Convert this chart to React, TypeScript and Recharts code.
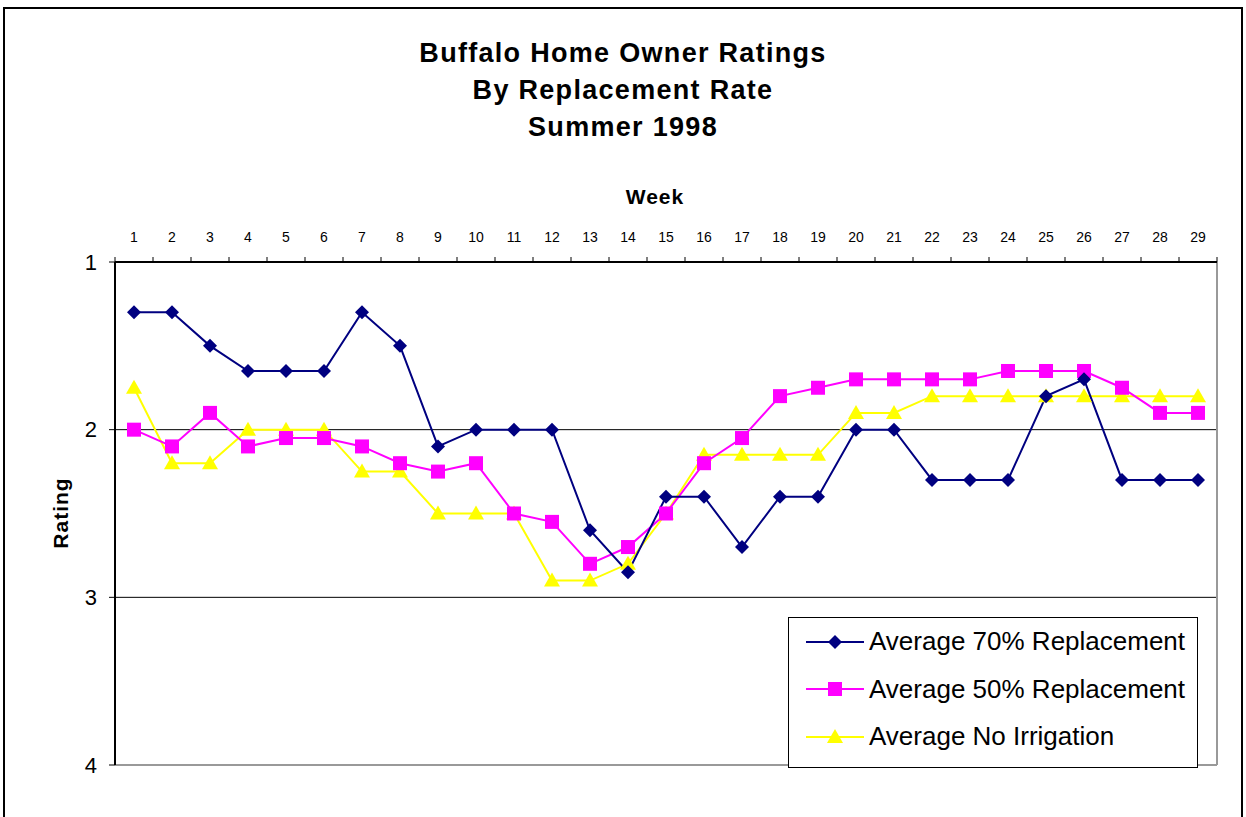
import React from 'react'
import { LineChart, Line, XAxis, YAxis, ReferenceLine, Legend } from 'recharts'

const weeks = [1, 2, 3, 4, 5, 6, 7, 8, 9, 10, 11, 12, 13, 14, 15, 16, 17, 18, 19, 20, 21, 22, 23, 24, 25, 26, 27, 28, 29]
const avg70 = [1.3, 1.3, 1.5, 1.65, 1.65, 1.65, 1.3, 1.5, 2.1, 2.0, 2.0, 2.0, 2.6, 2.85, 2.4, 2.4, 2.7, 2.4, 2.4, 2.0, 2.0, 2.3, 2.3, 2.3, 1.8, 1.7, 2.3, 2.3, 2.3]
const avg50 = [2.0, 2.1, 1.9, 2.1, 2.05, 2.05, 2.1, 2.2, 2.25, 2.2, 2.5, 2.55, 2.8, 2.7, 2.5, 2.2, 2.05, 1.8, 1.75, 1.7, 1.7, 1.7, 1.7, 1.65, 1.65, 1.65, 1.75, 1.9, 1.9]
const noIrrigation = [1.75, 2.2, 2.2, 2.0, 2.0, 2.0, 2.25, 2.25, 2.5, 2.5, 2.5, 2.9, 2.9, 2.8, 2.5, 2.15, 2.15, 2.15, 2.15, 1.9, 1.9, 1.8, 1.8, 1.8, 1.8, 1.8, 1.8, 1.8, 1.8]
const ratingTicks = [1, 2, 3, 4]

const data = weeks.map((w, i) => ({ week: w, avg70: avg70[i], avg50: avg50[i], none: noIrrigation[i] }))

const FONT = '"Liberation Sans", Arial, sans-serif'
const W = 1246
const H = 817
const PLOT_LEFT = 115
const PLOT_RIGHT = 1217
const PLOT_TOP = 262
const PLOT_BOTTOM = 765
const STEP = (PLOT_RIGHT - PLOT_LEFT) / weeks.length

const Diamond = ({ cx, cy }) => {
  if (cx == null || cy == null) return null
  const r = 7
  return <path d={`M${cx},${cy - r}L${cx + r},${cy}L${cx},${cy + r}L${cx - r},${cy}Z`} fill="#000080" />
}
const Square = ({ cx, cy }) => {
  if (cx == null || cy == null) return null
  return <rect x={cx - 7} y={cy - 7} width={14} height={14} fill="#FF00FF" />
}
const Triangle = ({ cx, cy }) => {
  if (cx == null || cy == null) return null
  return <path d={`M${cx},${cy - 8}L${cx + 8},${cy + 6}L${cx - 8},${cy + 6}Z`} fill="#FFFF00" />
}

const WeekTick = ({ x, payload, index }) => (
  <g>
    <text x={x} y={PLOT_TOP - 20} textAnchor="middle" fontSize={14} fontFamily={FONT} fill="#000">
      {payload.value}
    </text>
    <line x1={x + STEP / 2} x2={x + STEP / 2} y1={PLOT_TOP - 5} y2={PLOT_TOP} stroke="#000" />
    {index === 0 && <line x1={x - STEP / 2} x2={x - STEP / 2} y1={PLOT_TOP - 5} y2={PLOT_TOP} stroke="#000" />}
  </g>
)

const legendItems = [
  { label: 'Average 70% Replacement', color: '#000080', Marker: Diamond },
  { label: 'Average 50% Replacement', color: '#FF00FF', Marker: Square },
  { label: 'Average No Irrigation', color: '#FFFF00', Marker: Triangle },
]

const LegendBox = () => (
  <div
    style={{
      width: 410,
      height: 151,
      boxSizing: 'border-box',
      border: '1px solid #000',
      background: '#fff',
      padding: '0 0 0 16px',
      fontFamily: FONT,
    }}
  >
    {legendItems.map(({ label, color, Marker }) => (
      <div key={label} style={{ display: 'flex', alignItems: 'center', height: 47.5 }}>
        <svg width={60} height={20} style={{ flex: 'none' }}>
          <line x1={1} x2={59} y1={10} y2={10} stroke={color} strokeWidth={2} />
          <Marker cx={30} cy={10} />
        </svg>
        <span style={{ fontSize: 26, marginLeft: 4, color: '#000', whiteSpace: 'pre' }}>{label}</span>
      </div>
    ))}
  </div>
)

export default function App() {
  return (
    <div style={{ position: 'absolute', left: 0, top: 0, width: W, height: H, background: '#fff', overflow: 'hidden' }}>
      <div
        style={{
          position: 'absolute',
          left: 3,
          top: 7,
          width: 1236,
          height: 830,
          border: '2px solid #000',
        }}
      />
      <div
        style={{
          position: 'absolute',
          left: 0,
          top: 35,
          width: W,
          textAlign: 'center',
          fontFamily: FONT,
          fontWeight: 'bold',
          fontSize: 27,
          letterSpacing: 1.3,
          lineHeight: '37px',
        }}
      >
        <div>Buffalo Home Owner Ratings</div>
        <div>By Replacement Rate</div>
        <div>Summer 1998</div>
      </div>
      <div
        style={{
          position: 'absolute',
          left: 555,
          top: 185,
          width: 200,
          textAlign: 'center',
          fontFamily: FONT,
          fontWeight: 'bold',
          fontSize: 21,
          letterSpacing: 1,
        }}
      >
        Week
      </div>
      <div
        style={{
          position: 'absolute',
          left: 61,
          top: 513,
          transform: 'translate(-50%, -50%) rotate(-90deg)',
          fontFamily: FONT,
          fontWeight: 'bold',
          fontSize: 21,
          letterSpacing: 1,
          whiteSpace: 'nowrap',
        }}
      >
        Rating
      </div>
      <LineChart
        width={W}
        height={H}
        data={data}
        margin={{ top: PLOT_TOP - 30, left: PLOT_LEFT - 60, right: W - PLOT_RIGHT, bottom: H - PLOT_BOTTOM }}
        style={{ position: 'absolute', left: 0, top: 0 }}
      >
        <XAxis
          dataKey="week"
          type="number"
          orientation="top"
          domain={[0.5, 29.5]}
          ticks={weeks}
          interval={0}
          height={30}
          tickLine={false}
          axisLine={{ stroke: '#000', strokeWidth: 2 }}
          tick={<WeekTick />}
        />
        <YAxis
          type="number"
          domain={[1, 4]}
          reversed
          ticks={ratingTicks}
          width={60}
          tickSize={6}
          tickMargin={12}
          axisLine={{ stroke: '#000', strokeWidth: 2 }}
          tickLine={{ stroke: '#000' }}
          tick={{ fontSize: 22, fontFamily: FONT, fill: '#000' }}
        />
        <ReferenceLine y={2} stroke="#000" strokeWidth={1} />
        <ReferenceLine y={3} stroke="#000" strokeWidth={1} />
        <ReferenceLine y={4} stroke="#999" strokeWidth={2} />
        <ReferenceLine x={29.5} stroke="#999" strokeWidth={2} />
        <Line dataKey="none" stroke="#FFFF00" strokeWidth={2} dot={<Triangle />} activeDot={false} isAnimationActive={false} />
        <Line dataKey="avg50" stroke="#FF00FF" strokeWidth={2} dot={<Square />} activeDot={false} isAnimationActive={false} />
        <Line dataKey="avg70" stroke="#000080" strokeWidth={2} dot={<Diamond />} activeDot={false} isAnimationActive={false} />
        <Legend
          layout="vertical"
          align="center"
          verticalAlign="middle"
          content={<LegendBox />}
          wrapperStyle={{ left: 788, top: 617, right: 'auto', bottom: 'auto', width: 410, height: 151 }}
        />
      </LineChart>
    </div>
  )
}
